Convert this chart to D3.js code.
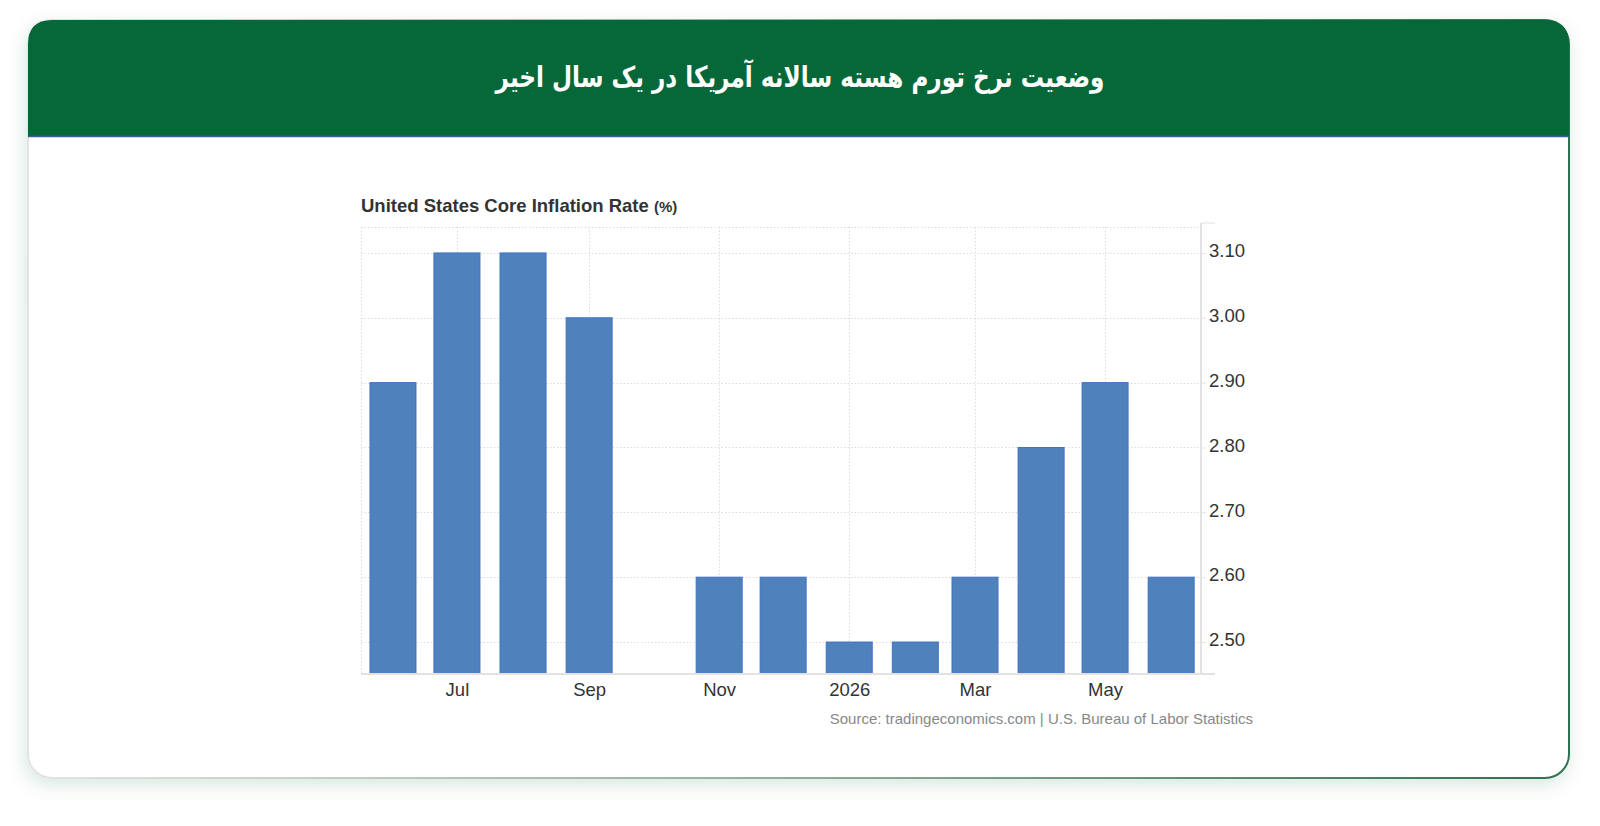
<!DOCTYPE html>
<html>
<head>
<meta charset="utf-8">
<script src="https://cdn.jsdelivr.net/npm/d3@7"></script>
<style>
  body { margin: 0; background: #fff; }
  svg { display: block; }
</style>
</head>
<body>
<div id="chart"></div>
<script>
// Chart data
const months = ["2025-06", "2025-07", "2025-08", "2025-09", "2025-10", "2025-11", "2025-12",
                "2026-01", "2026-02", "2026-03", "2026-04", "2026-05", "2026-06"];
const coreRate = [2.9, 3.1, 3.1, 3.0, null, 2.6, 2.6, 2.5, 2.5, 2.6, 2.8, 2.9, 2.6];
const xTickMonths = ["2025-07", "2025-09", "2025-11", "2026-01", "2026-03", "2026-05"];
const xTickLabels = ["Jul", "Sep", "Nov", "2026", "Mar", "May"];
const yTicks = [2.5, 2.6, 2.7, 2.8, 2.9, 3.0, 3.1];

const W = 1600, H = 826;
const parse = d3.timeParse("%Y-%m");
const sans = "Arial, 'Liberation Sans', sans-serif";

const svg = d3.select("#chart").append("svg")
    .attr("width", W)
    .attr("height", H);

const defs = svg.append("defs");

// soft green shadow round the card
const shadow = defs.append("filter").attr("id", "shadow")
    .attr("x", "-10%").attr("y", "-10%").attr("width", "120%").attr("height", "130%");
shadow.append("feDropShadow")
    .attr("dx", -2).attr("dy", 6).attr("stdDeviation", 9)
    .attr("flood-color", "#0a6a3c").attr("flood-opacity", 0.16);

const borderGrad = defs.append("linearGradient").attr("id", "borderGrad")
    .attr("x1", "0%").attr("x2", "100%").attr("y1", "0%").attr("y2", "0%");
borderGrad.append("stop").attr("offset", "0%").attr("stop-color", "#e3e3e3");
borderGrad.append("stop").attr("offset", "60%").attr("stop-color", "#7fa08c");
borderGrad.append("stop").attr("offset", "100%").attr("stop-color", "#2e7150");

// Card
const card = { x: 28, y: 20, w: 1541, h: 758, r: 24 };
const headerH = 116;

svg.append("rect")
    .attr("x", card.x).attr("y", card.y)
    .attr("width", card.w).attr("height", card.h)
    .attr("rx", card.r)
    .attr("fill", "#fff")
    .attr("stroke", "url(#borderGrad)")
    .attr("stroke-width", 2)
    .style("filter", "url(#shadow)");

// Header with rounded top corners only
const r = card.r;
svg.append("path")
    .attr("d", `M${card.x},${card.y + headerH} V${card.y + r} Q${card.x},${card.y} ${card.x + r},${card.y}
        H${card.x + card.w - r} Q${card.x + card.w},${card.y} ${card.x + card.w},${card.y + r}
        V${card.y + headerH} Z`)
    .attr("fill", "#066839");

svg.append("line")
    .attr("x1", card.x).attr("x2", card.x + card.w)
    .attr("y1", card.y + headerH + 0.5).attr("y2", card.y + headerH + 0.5)
    .attr("stroke", "#3b5b9c").attr("stroke-width", 1.5);

svg.append("text")
    .attr("x", W / 2).attr("y", 87)
    .attr("text-anchor", "middle")
    .attr("direction", "rtl")
    .attr("fill", "#fff")
    .attr("textLength", 609)
    .attr("lengthAdjust", "spacingAndGlyphs")
    .style("font-family", "'DejaVu Sans', sans-serif")
    .style("font-weight", "bold")
    .style("font-size", "29px")
    .text("وضعیت نرخ تورم هسته سالانه آمریکا در یک سال اخیر");

// Plot area
const plot = { left: 361, right: 1201, top: 227, bottom: 674 };

const x = d3.scaleTime()
    .domain([new Date(2025, 4, 17), new Date(2026, 5, 15)])
    .range([plot.left, plot.right]);

const y = d3.scaleLinear()
    .domain([2.4507, 3.14])
    .range([plot.bottom, plot.top]);

const barWidth = 46;
const data = months.map((m, i) => ({ date: parse(m), value: coreRate[i] }))
    .filter(d => d.value !== null);

// grid
const grid = svg.append("g")
    .attr("stroke", "#dcdcdc")
    .attr("stroke-width", 1)
    .attr("stroke-dasharray", "1.5,2");

grid.selectAll("line.h")
    .data(yTicks.concat([y.domain()[1]]))
    .join("line")
    .attr("x1", plot.left).attr("x2", plot.right)
    .attr("y1", d => Math.round(y(d)) + 0.5).attr("y2", d => Math.round(y(d)) + 0.5);

grid.selectAll("line.v")
    .data(xTickMonths.map(parse).concat([x.domain()[0]]))
    .join("line")
    .attr("x1", d => Math.round(x(d)) + 0.5).attr("x2", d => Math.round(x(d)) + 0.5)
    .attr("y1", plot.top).attr("y2", plot.bottom);

// bars
svg.append("g")
    .selectAll("rect")
    .data(data)
    .join("rect")
    .attr("x", d => x(d.date) - barWidth / 2)
    .attr("y", d => y(d.value))
    .attr("width", barWidth)
    .attr("height", d => plot.bottom - y(d.value))
    .attr("fill", "#4f81bd")
    .attr("stroke", "#3f72c2")
    .attr("stroke-width", 1);

// right y axis
const yAxis = svg.append("g")
    .attr("transform", `translate(${plot.right},0)`)
    .call(d3.axisRight(y).tickValues(yTicks).tickFormat(d3.format(".2f")).tickSize(5).tickPadding(3));
yAxis.select(".domain").remove();
yAxis.selectAll(".tick line").attr("stroke", "#e2e2e2");
yAxis.selectAll(".tick text")
    .attr("fill", "#333")
    .attr("dy", "0.2em")
    .style("font-family", sans)
    .style("font-size", "18.5px");

// axis lines
const axisLines = svg.append("g").attr("stroke", "#e2e2e2").attr("stroke-width", 2);
axisLines.append("line")
    .attr("x1", plot.right).attr("x2", plot.right)
    .attr("y1", plot.top - 4).attr("y2", plot.bottom);
axisLines.append("line")
    .attr("x1", plot.left).attr("x2", plot.right + 14)
    .attr("y1", plot.bottom).attr("y2", plot.bottom);
axisLines.append("line")
    .attr("x1", plot.right).attr("x2", plot.right + 14)
    .attr("y1", plot.top - 4).attr("y2", plot.top - 4)
    .attr("stroke-width", 1);

// bottom x axis
const xAxis = svg.append("g")
    .attr("transform", `translate(0,${plot.bottom})`)
    .call(d3.axisBottom(x)
        .tickValues(xTickMonths.map(parse))
        .tickFormat((d, i) => xTickLabels[i])
        .tickSize(0).tickPadding(9));
xAxis.select(".domain").remove();
xAxis.selectAll(".tick text")
    .attr("fill", "#333")
    .style("font-family", sans)
    .style("font-size", "18.5px");

// chart title
const title = svg.append("text")
    .attr("x", plot.left).attr("y", 212)
    .attr("fill", "#333")
    .style("font-family", sans)
    .style("font-weight", "bold")
    .style("font-size", "18.5px");
title.append("tspan").text("United States Core Inflation Rate ");
title.append("tspan").style("font-size", "15px").text("(%)");

// source
svg.append("text")
    .attr("x", 1253).attr("y", 724)
    .attr("text-anchor", "end")
    .attr("fill", "#888")
    .style("font-family", sans)
    .style("font-size", "15px")
    .text("Source: tradingeconomics.com | U.S. Bureau of Labor Statistics");
</script>
</body>
</html>
